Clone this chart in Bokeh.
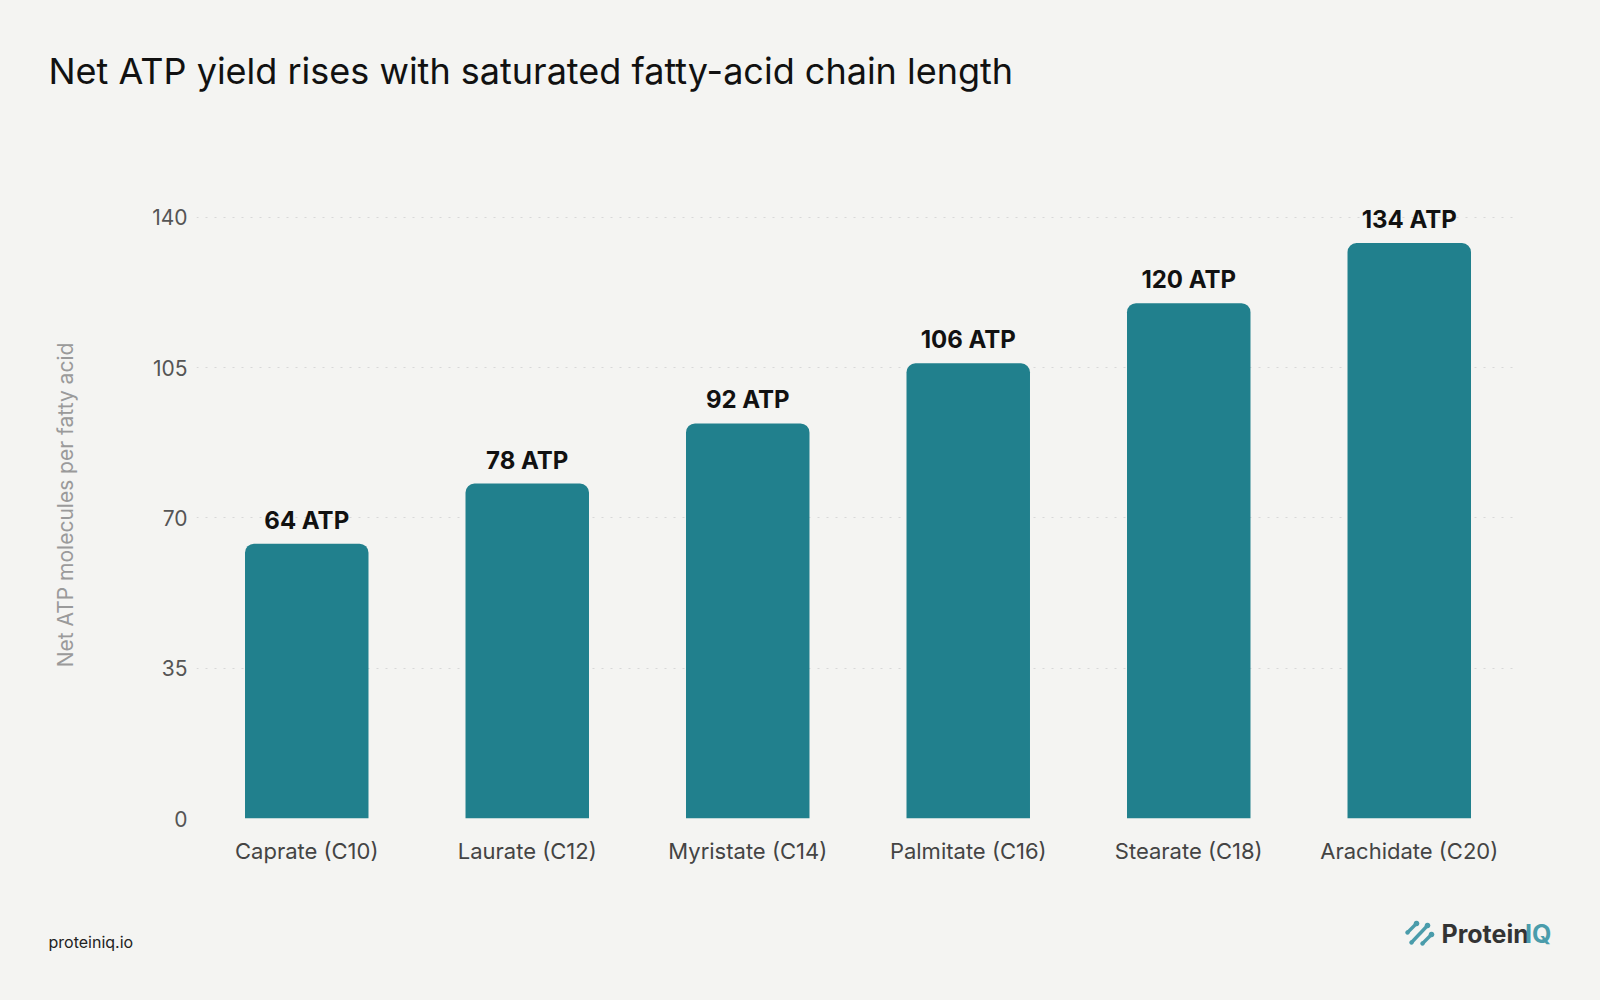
from bokeh.plotting import figure
from bokeh.layouts import column, row
from bokeh.models import Range1d, Label, ColumnDataSource, FactorRange, FixedTicker, PolyAnnotation
from bokeh.embed import file_html
from bokeh.resources import INLINE
from bokeh.core.properties import value
import math

categories = ["Caprate (C10)", "Laurate (C12)", "Myristate (C14)", "Palmitate (C16)", "Stearate (C18)", "Arachidate (C20)"]
atp = [64, 78, 92, 106, 120, 134]
bar_labels = [f"{v} ATP" for v in atp]
y_ticks = [0, 35, 70, 105, 140]

BG = "#f4f4f2"
TEAL = "#21808d"
LOGO = "#4a9cab"
FONT = "Inter"
W = 1600
H_HEAD, H_MAIN, H_FOOT = 120, 780, 100


def blank(h):
    f = figure(width=W, height=h, x_range=Range1d(0, W), y_range=Range1d(h, 0),
               x_axis_location=None, y_axis_location=None, output_backend="svg",
               toolbar_location=None, min_border=0)
    f.background_fill_color = BG
    f.border_fill_color = BG
    f.outline_line_color = None
    f.xgrid.visible = False
    f.ygrid.visible = False
    return f


# ---- header with the title
head = blank(H_HEAD)
head.add_layout(Label(x=48, y=70, text="Net ATP yield rises with saturated fatty-acid chain length",
                      text_font=FONT, text_font_size="36px", text_color="#111111", text_baseline="middle"))

# ---- main chart
src = ColumnDataSource(data=dict(cat=categories, atp=atp, lab=bar_labels))

p = figure(x_range=FactorRange(*categories), y_range=Range1d(0, 146),
           width=W, height=H_MAIN, output_backend="svg", toolbar_location=None,
           min_border_left=196, min_border_right=81, min_border_top=71, min_border_bottom=82)
p.background_fill_color = BG
p.border_fill_color = BG
p.outline_line_color = None

p.vbar(x="cat", top="atp", width=0.56, source=src, fill_color=TEAL, line_color=None,
       border_radius=(9, 9, 0, 0))
p.text(x="cat", y="atp", text="lab", source=src, y_offset=-9,
       text_align="center", text_baseline="bottom",
       text_font=value(FONT), text_font_style="bold", text_font_size="24px", text_color="#111111")

p.xgrid.grid_line_color = None
p.ygrid.grid_line_color = "#d8d8d8"
p.ygrid.grid_line_dash = "2 7"
p.ygrid.grid_line_width = 1
p.yaxis.ticker = FixedTicker(ticks=y_ticks)

for ax in (p.xaxis, p.yaxis):
    ax.axis_line_color = None
    ax.major_tick_line_color = None
    ax.minor_tick_line_color = None
    ax.major_label_text_font = FONT

p.xaxis.major_label_text_font_size = "22px"
p.xaxis.major_label_text_color = "#444444"
p.xaxis.major_label_standoff = 13

p.yaxis.major_label_text_font_size = "21px"
p.yaxis.major_label_text_color = "#555555"
p.yaxis.major_label_standoff = 3
p.yaxis.axis_label = "Net ATP molecules per fatty acid"
p.yaxis.axis_label_text_font = FONT
p.yaxis.axis_label_text_font_style = "normal"
p.yaxis.axis_label_text_font_size = "21px"
p.yaxis.axis_label_text_color = "#9a9a9a"
p.yaxis.axis_label_standoff = 71

# ---- footer with source and logo
foot = blank(H_FOOT)
foot.add_layout(Label(x=48, y=41, text="proteiniq.io",
                      text_font=FONT, text_font_size="16px", text_color="#222222", text_baseline="middle"))
foot.add_layout(Label(x=1441, y=33, text="Protein",
                      text_font=FONT, text_font_size="25px", text_font_style="bold", text_color="#333333",
                      text_baseline="middle"))
foot.add_layout(Label(x=1551, y=33, text="IQ", text_align="right",
                      text_font=FONT, text_font_size="25px", text_font_style="bold", text_color=LOGO,
                      text_baseline="middle"))

IX, IY = 1405, 17
strokes = [(2, 15, 11, 6), (6, 25, 22, 8), (17, 26, 26, 17)]


def poly_stroke(x0, y0, x1, y1, w=1.7):
    dx, dy = x1 - x0, y1 - y0
    L = math.hypot(dx, dy)
    nx, ny = -dy / L * w, dx / L * w
    return [x0 + nx, x1 + nx, x1 - nx, x0 - nx], [y0 + ny, y1 + ny, y1 - ny, y0 - ny]


def poly_dot(cx, cy, r=2.8, n=12):
    return ([cx + r * math.cos(2 * math.pi * k / n) for k in range(n)],
            [cy + r * math.sin(2 * math.pi * k / n) for k in range(n)])


shapes = []
for (x0, y0, x1, y1) in strokes:
    shapes.append(poly_stroke(x0, y0, x1, y1))
    shapes.append(poly_dot(x1, y1))
    shapes.append(poly_dot(x0, y0, r=2.2))
for xs, ys in shapes:
    foot.add_layout(PolyAnnotation(xs=[IX + v for v in xs], ys=[IY + v for v in ys],
                                   fill_color=LOGO, fill_alpha=1, line_color=None))

layout = column(row(head), row(p), row(foot), spacing=0)
layout.styles = {"background-color": BG}
open("out.html", "w").write(file_html(layout, INLINE))
